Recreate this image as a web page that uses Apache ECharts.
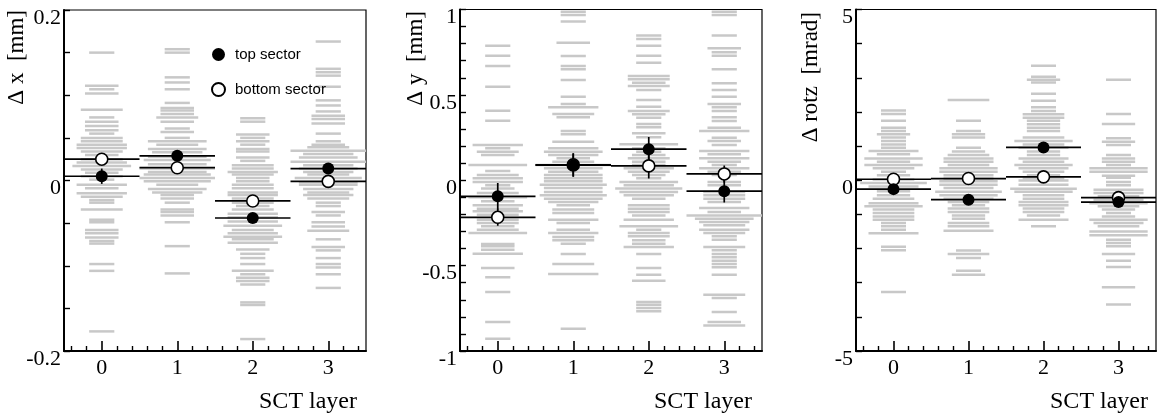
<!DOCTYPE html>
<html><head><meta charset="utf-8">
<script src="https://cdn.jsdelivr.net/npm/echarts@6/dist/echarts.min.js"></script>
<style>html,body{margin:0;padding:0;background:#fff}#c{width:1157px;height:418px}</style>
</head><body><div id="c"></div>
<script>
// ---------- DATA ----------
const layers = ['0', '1', '2', '3'];
const xTitle = 'SCT layer';
const legendNames = ['top sector', 'bottom sector'];

const dxTitle = 'Δ x  [mm]';
const dxTicks = [-0.2, 0, 0.2];
const dxTop = [0.005, 0.029, -0.044, 0.014];
const dxTopErr = [0.009, 0.005, 0.005, 0.005];
const dxBottom = [0.025, 0.015, -0.024, -0.001];
const dxBottomErr = [0.005, 0.005, 0.005, 0.005];
// per layer: [value, entries]
const dxModules = [
  [[0.150,3],[0.111,4],[0.107,3],[0.102,4],[0.083,5],[0.074,3],[0.069,4],[0.064,4],[0.059,4],[0.055,3],[0.050,5],[0.046,5],[0.042,6],[0.038,6],[0.034,5],[0.030,4],[0.025,5],[0.021,6],[0.017,7],[0.013,5],[0.009,4],[0.005,5],[0.001,3],[-0.005,6],[-0.009,4],[-0.015,6],[-0.019,5],[-0.023,3],[-0.026,3],[-0.034,5],[-0.046,3],[-0.049,3],[-0.058,4],[-0.062,4],[-0.067,4],[-0.071,3],[-0.074,3],[-0.098,3],[-0.106,3],[-0.177,3]],
  [[0.154,3],[0.150,3],[0.121,3],[0.115,3],[0.107,3],[0.091,3],[0.085,4],[0.082,4],[0.078,4],[0.074,5],[0.069,4],[0.061,3],[0.057,4],[0.050,3],[0.046,7],[0.042,5],[0.037,7],[0.033,6],[0.028,7],[0.024,8],[0.019,7],[0.014,9],[0.010,7],[0.007,8],[0.003,9],[-0.001,8],[-0.005,5],[-0.010,7],[-0.014,6],[-0.017,4],[-0.021,4],[-0.026,3],[-0.034,4],[-0.037,4],[-0.041,4],[-0.049,3],[-0.077,3],[-0.109,3]],
  [[0.073,3],[0.069,3],[0.054,4],[0.050,3],[0.046,4],[0.042,3],[0.037,4],[0.034,4],[0.027,4],[0.023,3],[0.018,5],[0.014,5],[0.010,6],[0.007,5],[0.003,4],[-0.001,4],[-0.005,5],[-0.009,5],[-0.014,6],[-0.017,6],[-0.021,5],[-0.026,5],[-0.030,4],[-0.034,5],[-0.039,6],[-0.043,6],[-0.048,6],[-0.053,7],[-0.058,5],[-0.062,6],[-0.066,7],[-0.069,5],[-0.073,6],[-0.081,4],[-0.086,3],[-0.091,3],[-0.098,3],[-0.106,5],[-0.110,3],[-0.114,4],[-0.118,4],[-0.122,3],[-0.143,3],[-0.146,3],[-0.186,3]],
  [[0.163,3],[0.131,3],[0.127,3],[0.123,3],[0.110,3],[0.094,3],[0.088,3],[0.081,3],[0.076,4],[0.072,4],[0.067,4],[0.055,3],[0.046,3],[0.042,4],[0.039,5],[0.035,9],[0.031,6],[0.027,7],[0.022,9],[0.018,6],[0.014,7],[0.010,6],[0.007,5],[0.003,8],[-0.002,7],[-0.005,7],[-0.010,6],[-0.014,5],[-0.017,6],[-0.021,5],[-0.026,3],[-0.030,3],[-0.037,4],[-0.041,3],[-0.049,4],[-0.054,4],[-0.059,5],[-0.069,3],[-0.078,4],[-0.082,3],[-0.091,3],[-0.098,3],[-0.102,3],[-0.110,3],[-0.126,3]]
];

const dyTitle = 'Δ y  [mm]';
const dyTicks = [-1, -0.5, 0, 0.5, 1];
const dyTop = [-0.094, 0.088, 0.182, -0.064];
const dyTopErr = [0.078, 0.068, 0.072, 0.067];
const dyBottom = [-0.217, 0.090, 0.084, 0.037];
const dyBottomErr = [0.050, 0.068, 0.074, 0.050];
const dyModules = [
  [[0.788,3],[0.729,3],[0.669,3],[0.548,3],[0.407,3],[0.349,3],[0.206,6],[0.187,3],[0.167,5],[0.148,4],[0.089,7],[0.054,3],[0.031,5],[0.012,6],[-0.010,6],[-0.030,3],[-0.049,4],[-0.075,5],[-0.100,7],[-0.123,4],[-0.147,6],[-0.167,5],[-0.182,6],[-0.202,5],[-0.231,5],[-0.250,5],[-0.270,4],[-0.290,5],[-0.309,7],[-0.373,4],[-0.387,4],[-0.407,4],[-0.430,6],[-0.514,4],[-0.568,3],[-0.654,3],[-0.830,3],[-0.928,3]],
  [[0.987,3],[0.968,3],[0.929,3],[0.806,4],[0.728,3],[0.669,3],[0.650,3],[0.587,3],[0.489,3],[0.447,3],[0.427,6],[0.388,5],[0.369,4],[0.288,3],[0.269,3],[0.226,5],[0.187,6],[0.167,7],[0.148,6],[0.129,4],[0.109,5],[0.089,9],[0.070,7],[0.050,6],[0.031,7],[0.012,7],[-0.006,7],[-0.026,8],[-0.045,7],[-0.069,7],[-0.088,8],[-0.108,7],[-0.127,6],[-0.147,4],[-0.172,5],[-0.192,5],[-0.231,6],[-0.250,4],[-0.290,4],[-0.309,6],[-0.332,5],[-0.352,5],[-0.372,3],[-0.432,3],[-0.490,5],[-0.549,6],[-0.869,3]],
  [[0.847,3],[0.827,3],[0.788,3],[0.729,3],[0.688,3],[0.611,5],[0.591,5],[0.571,4],[0.552,5],[0.529,3],[0.470,3],[0.431,3],[0.406,5],[0.386,4],[0.366,3],[0.329,3],[0.310,3],[0.275,4],[0.252,3],[0.211,7],[0.187,4],[0.167,3],[0.148,4],[0.129,5],[0.109,4],[0.089,4],[0.070,6],[0.050,5],[0.031,4],[0.011,3],[-0.010,7],[-0.030,6],[-0.049,8],[-0.069,7],[-0.088,6],[-0.108,4],[-0.147,5],[-0.167,5],[-0.186,5],[-0.206,4],[-0.231,6],[-0.270,7],[-0.290,3],[-0.309,5],[-0.328,5],[-0.352,4],[-0.372,4],[-0.391,6],[-0.432,3],[-0.514,3],[-0.553,3],[-0.588,4],[-0.713,3],[-0.729,3],[-0.748,3],[-0.767,3]],
  [[0.987,3],[0.968,3],[0.847,3],[0.773,4],[0.749,3],[0.729,3],[0.650,3],[0.568,3],[0.529,3],[0.489,3],[0.447,4],[0.427,3],[0.406,3],[0.369,3],[0.347,3],[0.308,4],[0.288,6],[0.249,3],[0.230,4],[0.206,3],[0.171,6],[0.152,4],[0.129,6],[0.109,4],[0.089,3],[0.070,6],[0.050,4],[0.031,3],[-0.010,4],[-0.030,4],[-0.069,5],[-0.088,5],[-0.108,5],[-0.127,4],[-0.163,6],[-0.186,4],[-0.206,9],[-0.225,7],[-0.245,6],[-0.264,5],[-0.290,6],[-0.309,5],[-0.328,3],[-0.348,3],[-0.391,5],[-0.410,3],[-0.432,3],[-0.451,3],[-0.471,3],[-0.490,3],[-0.510,3],[-0.553,3],[-0.670,5],[-0.690,3],[-0.772,3],[-0.830,4],[-0.850,5]]
];

const rotzTitle = 'Δ rotz  [mrad]';
const rotzTicks = [-5, 0, 5];
const rotzTop = [-0.26, -0.57, 0.96, -0.64];
const rotzTopErr = [0.08, 0.08, 0.08, 0.08];
const rotzBottom = [0.03, 0.05, 0.10, -0.51];
const rotzBottomErr = [0.08, 0.08, 0.08, 0.08];
const rotzModules = [
  [[2.04,3],[1.94,3],[1.74,3],[1.54,3],[1.44,3],[1.35,4],[1.25,3],[1.15,3],[1.05,3],[0.95,3],[0.86,6],[0.76,4],[0.64,7],[0.54,4],[0.45,7],[0.35,5],[0.25,3],[0.15,4],[0.02,5],[-0.08,8],[-0.18,6],[-0.32,4],[-0.44,4],[-0.54,5],[-0.67,6],[-0.76,7],[-0.86,5],[-0.96,5],[-1.06,5],[-1.16,5],[-1.25,3],[-1.35,3],[-1.45,3],[-1.55,6],[-1.95,3],[-2.05,3],[-3.27,3]],
  [[2.35,5],[1.74,3],[1.44,3],[1.35,4],[1.25,4],[0.95,3],[0.84,4],[0.74,5],[0.64,6],[0.54,6],[0.45,5],[0.35,7],[0.25,7],[0.15,6],[0.05,6],[-0.03,7],[-0.13,7],[-0.23,6],[-0.34,8],[-0.44,7],[-0.54,6],[-0.64,5],[-0.73,4],[-0.83,5],[-0.93,5],[-1.03,4],[-1.13,4],[-1.25,5],[-1.35,5],[-1.48,6],[-2.06,3],[-2.16,5],[-2.28,3],[-2.65,3],[-2.77,4]],
  [[3.35,3],[3.03,3],[2.94,4],[2.86,3],[2.53,3],[2.33,3],[2.14,3],[2.03,3],[1.93,5],[1.83,5],[1.74,4],[1.64,4],[1.54,4],[1.44,4],[1.25,5],[1.15,7],[1.05,5],[0.95,6],[0.84,4],[0.74,4],[0.64,6],[0.54,5],[0.45,7],[0.35,6],[0.25,5],[0.15,4],[0.05,5],[-0.01,6],[-0.13,6],[-0.25,8],[-0.34,7],[-0.44,5],[-0.54,5],[-0.64,6],[-0.73,6],[-0.83,5],[-0.93,5],[-1.03,4],[-1.16,6],[-1.35,3]],
  [[2.94,3],[1.94,3],[1.65,4],[1.23,3],[1.13,4],[1.03,3],[0.74,3],[0.64,4],[0.54,4],[0.45,3],[0.35,7],[0.25,7],[0.13,4],[0.07,3],[-0.05,3],[-0.15,3],[-0.28,6],[-0.37,6],[-0.47,5],[-0.57,6],[-0.67,7],[-0.76,5],[-0.86,4],[-0.96,3],[-1.06,4],[-1.16,7],[-1.25,6],[-1.35,5],[-1.50,7],[-1.61,7],[-1.74,3],[-1.84,3],[-1.93,3],[-2.16,4],[-2.36,3],[-2.54,3],[-3.13,4],[-3.64,3]]
];

// ---------- LAYOUT / STYLE ----------
const panels = [
  {title: dxTitle, ticks: dxTicks, min: -0.2, max: 0.2, interval: 0.05, top: dxTop, topErr: dxTopErr, bot: dxBottom, botErr: dxBottomErr, mods: dxModules,
   grid: {left: 64, top: 10, width: 302, height: 341}, titleX: 17, titleY: 10, xTitleRight: 357},
  {title: dyTitle, ticks: dyTicks, min: -1, max: 1, interval: 0.1, top: dyTop, topErr: dyTopErr, bot: dyBottom, botErr: dyBottomErr, mods: dyModules,
   grid: {left: 460, top: 9.5, width: 302, height: 341.5}, titleX: 416, titleY: 11, xTitleRight: 752},
  {title: rotzTitle, ticks: rotzTicks, min: -5, max: 5, interval: 1, top: rotzTop, topErr: rotzTopErr, bot: rotzBottom, botErr: rotzBottomErr, mods: rotzModules,
   grid: {left: 856, top: 9.5, width: 300, height: 341.5}, titleX: 811, titleY: 12, xTitleRight: 1148}
];
const SERIF = '"Liberation Serif", "Times New Roman", serif';
const SANS = '"Liberation Sans", Arial, sans-serif';
const GRAY = '#c8c8c8';
const MAXN = 9;

const majorX = layers.map((_, i) => i);
const minorX = [];
for (let k = -2; k <= 17; k++) { const v = +(k * 0.2).toFixed(1); if (Math.abs(v - Math.round(v)) > 1e-6 && v > -0.5 && v < 3.5) minorX.push(v); }

function dashItem(params, api) {
  const c = api.coord([api.value(0), api.value(1)]);
  const w = api.size([1, 0])[0] * api.value(2) / MAXN;
  return {type: 'rect', shape: {x: c[0] - w / 2, y: c[1] - 1.25, width: w, height: 2.5}, style: {fill: GRAY}};
}
function errItem(params, api) {
  const x = api.value(0), y = api.value(1), e = api.value(2);
  const l = api.coord([x - 0.5, y]), r = api.coord([x + 0.5, y]);
  const t = api.coord([x, y + e]), b = api.coord([x, y - e]);
  return {type: 'group', children: [
    {type: 'line', shape: {x1: l[0], y1: l[1], x2: r[0], y2: r[1]}, style: {stroke: '#000', lineWidth: 1.7}},
    {type: 'line', shape: {x1: t[0], y1: t[1], x2: b[0], y2: b[1]}, style: {stroke: '#000', lineWidth: 1.7}}
  ]};
}

const grid = [], xAxis = [], yAxis = [], series = [], graphic = [];
panels.forEach((p, i) => {
  grid.push(Object.assign({show: true, borderColor: '#000', borderWidth: 1.2, backgroundColor: 'transparent'}, p.grid));
  xAxis.push({gridIndex: i, type: 'value', min: -0.5, max: 3.5, position: 'bottom',
    axisLine: {show: true, onZero: false, lineStyle: {color: '#000', width: 2}},
    axisTick: {show: true, inside: true, length: 10, customValues: majorX, lineStyle: {color: '#000', width: 1.6}},
    axisLabel: {show: true, customValues: majorX, formatter: v => layers[Math.round(v)], fontFamily: SERIF, fontSize: 22, color: '#000', margin: 6},
    splitLine: {show: false}});
  xAxis.push({gridIndex: i, type: 'value', min: -0.5, max: 3.5, position: 'bottom',
    axisLine: {show: false, onZero: false},
    axisTick: {show: true, inside: true, length: 5, customValues: minorX, lineStyle: {color: '#000', width: 1.4}},
    axisLabel: {show: false}, splitLine: {show: false}});
  yAxis.push({gridIndex: i, type: 'value', min: p.min, max: p.max, interval: p.interval,
    axisLine: {show: true, onZero: false, lineStyle: {color: '#000', width: 2}},
    axisTick: {show: true, inside: true, length: 6, lineStyle: {color: '#000', width: 1.4}},
    axisLabel: {show: true, customValues: p.ticks, fontFamily: SERIF, fontSize: 22, color: '#000', margin: 3, verticalAlign: 'top', lineHeight: 16},
    splitLine: {show: false}});
  const xi = i * 2;
  const dashData = [];
  p.mods.forEach((arr, li) => arr.forEach(m => dashData.push([li, m[0], m[1]])));
  series.push({type: 'custom', xAxisIndex: xi, yAxisIndex: i, renderItem: dashItem, data: dashData, z: 1, silent: true, clip: true});
  series.push({type: 'custom', xAxisIndex: xi, yAxisIndex: i, renderItem: errItem, z: 2, silent: true, clip: true,
    data: p.bot.map((v, li) => [li, v, p.botErr[li]])});
  series.push({type: 'custom', xAxisIndex: xi, yAxisIndex: i, renderItem: errItem, z: 2, silent: true, clip: true,
    data: p.top.map((v, li) => [li, v, p.topErr[li]])});
  series.push({name: legendNames[1], type: 'scatter', xAxisIndex: xi, yAxisIndex: i, symbol: 'circle', symbolSize: 12, z: 3,
    itemStyle: {color: '#fff', borderColor: '#000', borderWidth: 1.6, opacity: 1}, data: p.bot.map((v, li) => [li, v])});
  series.push({name: legendNames[0], type: 'scatter', xAxisIndex: xi, yAxisIndex: i, symbol: 'circle', symbolSize: 12, z: 4,
    itemStyle: {color: '#000', borderColor: '#000', borderWidth: 0, opacity: 1}, data: p.top.map((v, li) => [li, v])});
  graphic.push({type: 'text', x: p.titleX, y: p.titleY, rotation: Math.PI / 2,
    style: {text: p.title, font: '23px ' + SERIF, fill: '#000', align: 'right', verticalAlign: 'middle', textAlign: 'right', textVerticalAlign: 'middle'}});
  graphic.push({type: 'text', x: p.xTitleRight, y: 402,
    style: {text: xTitle, font: '24px ' + SERIF, fill: '#000', align: 'right', verticalAlign: 'middle', textAlign: 'right', textVerticalAlign: 'middle'}});
});

const chart = echarts.init(document.getElementById('c'), null, {renderer: 'canvas'});
chart.setOption({
  animation: false,
  backgroundColor: '#fff',
  grid, xAxis, yAxis, series, graphic,
  legend: {data: legendNames, orient: 'vertical', left: 206, top: 42, itemWidth: 13, itemHeight: 13, itemGap: 20,
    selectedMode: false, textStyle: {fontFamily: SANS, fontSize: 15, color: '#000', padding: [0, 0, 0, 5]}}
});
</script></body></html>
